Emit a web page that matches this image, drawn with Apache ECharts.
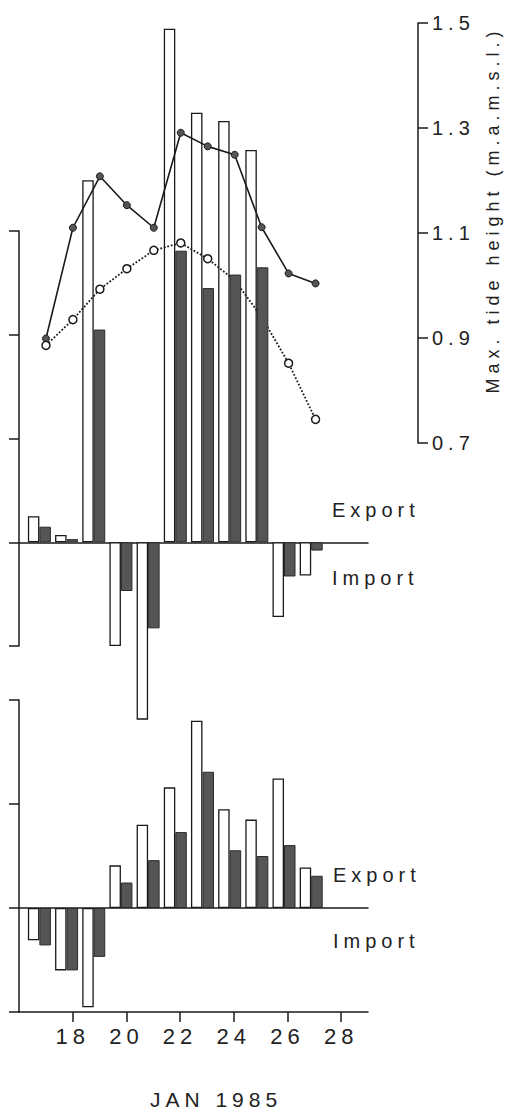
<!DOCTYPE html>
<html><head><meta charset="utf-8">
<script src="https://cdn.jsdelivr.net/npm/echarts@6/dist/echarts.min.js"></script>
<style>
html,body{margin:0;padding:0;background:#fff;}
#c{width:525px;height:1114px;}
#c text{letter-spacing:5px;}
</style></head><body><div id="c"></div>
<script>
// ---- data ----
const days = [17, 18, 19, 20, 21, 22, 23, 24, 25, 26, 27];
const upperOpen   = [0.25, 0.07, 3.49, -1.00, -1.71, 4.95, 4.14, 4.06, 3.78, -0.72, -0.32];
const upperFilled = [0.15, 0.03, 2.05, -0.47, -0.83, 2.81, 2.45, 2.58, 2.65, -0.33, -0.08];
const lowerOpen   = [-0.31, -0.60, -0.955, 0.41, 0.80, 1.16, 1.80, 0.95, 0.85, 1.245, 0.39];
const lowerFilled = [-0.36, -0.60, -0.47, 0.245, 0.46, 0.73, 1.31, 0.555, 0.50, 0.605, 0.31];
const tideSolid = [0.899, 1.110, 1.208, 1.153, 1.110, 1.291, 1.265, 1.249, 1.111, 1.023, 1.004];
const tideOpen  = [0.886, 0.935, 0.993, 1.032, 1.067, 1.081, 1.051, 1.010, 0.940, 0.852, 0.745];
const dayTicks = [18, 20, 22, 24, 26, 28];
const tideTicks = [0.7, 0.9, 1.1, 1.3, 1.5];
const flowLabels = ['Export', 'Import'];
const xTitle = 'JAN 1985';
const tideTitle = 'Max. tide height (m.a.m.s.l.)';

// ---- styling ----
const FONT = "'Liberation Sans', Arial, sans-serif";
const INK = '#1a1a1a';
const TXT = '#222';
const axLine = { color: INK, width: 1.5 };
const pairs = vals => days.map((d, i) => [d, vals[i]]);
const openStyle = { color: '#fff', borderColor: INK, borderWidth: 1.3 };
const fillStyle = { color: '#555', borderColor: '#2a2a2a', borderWidth: 1 };

const chart = echarts.init(document.getElementById('c'), null, { renderer: 'svg' });

function leftY(grid, min, max) {
  return {
    type: 'value', gridIndex: grid, min: min, max: max, interval: 1,
    axisLine: { show: true, onZero: false, lineStyle: axLine },
    axisTick: { show: true, length: 10, lineStyle: axLine },
    axisLabel: { show: false }, splitLine: { show: false }
  };
}
function barX(grid) {
  return {
    type: 'value', gridIndex: grid, min: 16.25, max: 29.09, position: 'top',
    axisLine: { show: true, onZero: true, lineStyle: axLine },
    axisTick: { show: false }, axisLabel: { show: false }, splitLine: { show: false }
  };
}
function bar(xi, yi, vals, style, z) {
  return {
    type: 'bar', xAxisIndex: xi, yAxisIndex: yi, data: pairs(vals),
    barWidth: 11.5, barGap: '0%', clip: false, z: z, itemStyle: style,
    emphasis: { disabled: true }
  };
}
function txt(x, y, s) {
  return { type: 'text', x: x, y: y, z: 10,
    style: { text: s, font: '20px ' + FONT, fill: TXT, align: 'left', verticalAlign: 'middle' } };
}

chart.setOption({
  animation: false,
  backgroundColor: '#fff',
  grid: [
    { left: 19, top: 231, width: 349, height: 415, outerBoundsMode: 'none', containLabel: false },
    { left: 19, top: 700, width: 349, height: 312, outerBoundsMode: 'none', containLabel: false },
    { left: 19, top: 23, width: 399, height: 420, outerBoundsMode: 'none', containLabel: false }
  ],
  xAxis: [
    barX(0),
    {
      type: 'value', gridIndex: 1, min: 16, max: 29, position: 'bottom',
      axisLine: { show: true, onZero: false, lineStyle: axLine },
      axisTick: { show: true, length: 10, lineStyle: axLine, customValues: dayTicks },
      axisLabel: { show: true, margin: 13, fontSize: 22, fontFamily: FONT, color: TXT, customValues: dayTicks },
      splitLine: { show: false },
      name: xTitle, nameLocation: 'middle', nameGap: 77,
      nameTextStyle: { fontSize: 21, fontFamily: FONT, color: TXT, padding: [0, 0, 0, 45] }
    },
    barX(1),
    { type: 'value', gridIndex: 2, min: 16, max: 30.8, show: false }
  ],
  yAxis: [
    leftY(0, -1, 3),
    leftY(1, -1, 2),
    {
      type: 'value', gridIndex: 2, position: 'right', min: 0.7, max: 1.5,
      axisLine: { show: true, onZero: false, lineStyle: axLine },
      axisTick: { show: true, length: 10, lineStyle: axLine, customValues: tideTicks },
      axisLabel: { show: true, margin: 14, fontSize: 20, fontFamily: FONT, color: TXT,
                   customValues: tideTicks, formatter: v => v.toFixed(1) },
      splitLine: { show: false },
      name: tideTitle, nameLocation: 'middle', nameRotate: 90, nameGap: 66,
      nameTextStyle: { fontSize: 18, fontFamily: FONT, color: TXT, padding: [0, 0, 0, 46] }
    }
  ],
  graphic: [
    txt(332, 510, flowLabels[0]),
    txt(332, 578, flowLabels[1]),
    txt(333, 875, flowLabels[0]),
    txt(333, 941, flowLabels[1])
  ],
  series: [
    bar(0, 0, upperOpen, openStyle, 2),
    bar(0, 0, upperFilled, fillStyle, 4),
    bar(2, 1, lowerOpen, openStyle, 2),
    bar(2, 1, lowerFilled, fillStyle, 4),
    {
      type: 'line', xAxisIndex: 3, yAxisIndex: 2, data: pairs(tideSolid), z: 3,
      symbol: 'circle', symbolSize: 7,
      lineStyle: { color: INK, width: 1.6, type: 'solid' },
      itemStyle: { color: '#555', borderColor: INK, borderWidth: 1 },
      emphasis: { disabled: true }
    },
    {
      type: 'line', xAxisIndex: 3, yAxisIndex: 2, data: pairs(tideOpen), z: 3,
      symbol: 'circle', symbolSize: 8,
      lineStyle: { color: INK, width: 1.8, type: 'dotted' },
      itemStyle: { color: '#fff', borderColor: INK, borderWidth: 1.5 },
      emphasis: { disabled: true }
    }
  ]
});
</script></body></html>
